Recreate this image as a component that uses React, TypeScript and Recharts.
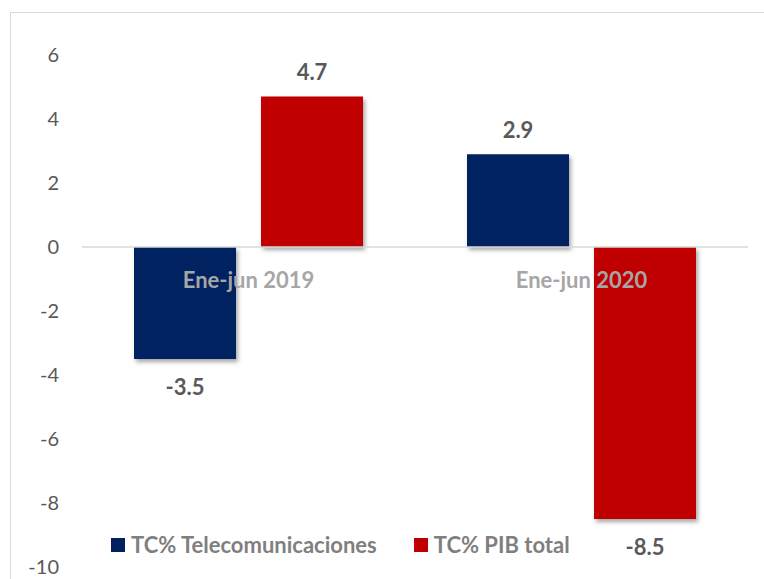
import { BarChart, Bar, XAxis, YAxis, ReferenceLine, Legend, LabelList } from 'recharts';

const periods = ['Ene-jun 2019', 'Ene-jun 2020'];
const telecom = [-3.5, 2.9];
const pibTotal = [4.7, -8.5];
const yTicks = [-10, -8, -6, -4, -2, 0, 2, 4, 6];

const seriesNames = ['TC% Telecomunicaciones', 'TC% PIB total'];
const colors = ['#002060', '#C00000'];

const data = periods.map((p, i) => ({ period: p, telecom: telecom[i], pib: pibTotal[i] }));

const FONT = 'Lato, "Noto Sans", sans-serif';
const TOP = 55;
const PLOT_H = 512;
const Y_MIN = -10;
const Y_MAX = 6;
const zeroY = TOP + (PLOT_H * Y_MAX) / (Y_MAX - Y_MIN);

function CategoryTick(props: any) {
  const { x, payload } = props;
  return (
    <text x={x} y={zeroY + 32} textAnchor="middle" dominantBaseline="central"
      fill="#A6A6A6" fontFamily={FONT} fontWeight="bold" fontSize={22}>
      {payload.value}
    </text>
  );
}

function ValueLabel(props: any) {
  const { x, y, width, height, value } = props;
  const top = Math.min(y, y + height);
  const bottom = Math.max(y, y + height);
  const ty = value >= 0 ? top - 25 : bottom + 27;
  return (
    <text x={x + width / 2} y={ty} textAnchor="middle" dominantBaseline="central"
      fill="#595959" fontFamily={FONT} fontWeight="bold" fontSize={22}>
      {value}
    </text>
  );
}

function LegendContent() {
  return (
    <div style={{ display: 'flex', alignItems: 'center', fontFamily: FONT, fontSize: 22, fontWeight: 'bold', color: '#7F7F7F', whiteSpace: 'nowrap' }}>
      {seriesNames.map((n, i) => (
        <div key={n} style={{ display: 'flex', alignItems: 'center', marginRight: 37 }}>
          <span style={{ width: 14, height: 14, background: colors[i], display: 'inline-block', marginRight: 6 }} />
          <span>{n}</span>
        </div>
      ))}
    </div>
  );
}

export default function App() {
  return (
    <div style={{ position: 'relative', width: 764, height: 579, overflow: 'hidden', background: '#fff' }}>
      <style>{'body{margin:0;overflow:hidden}'}</style>
      <div style={{ position: 'absolute', left: 10, top: 12, width: 800, height: 620, border: '1.5px solid #D9D9D9' }} />
      <div style={{ position: 'absolute', left: 0, top: 0 }}>
        <BarChart width={764} height={600} data={data}
          margin={{ top: TOP, right: 16, bottom: 600 - TOP - PLOT_H - 30, left: 0 }}
          barCategoryGap="15.6%" barGap={25}>
          <defs>
            <filter id="barShadow" x="-20%" y="-20%" width="140%" height="140%">
              <feDropShadow dx="2" dy="3" stdDeviation="2" floodColor="#000" floodOpacity="0.35" />
            </filter>
          </defs>
          <YAxis domain={[Y_MIN, Y_MAX]} ticks={yTicks} width={82} axisLine={false} tickLine={false}
            tickSize={0} tickMargin={23}
            tick={{ fill: '#595959', fontSize: 20, fontFamily: FONT }} />
          <ReferenceLine y={0} stroke="#D9D9D9" strokeWidth={1.5} />
          <Bar dataKey="telecom" name={seriesNames[0]} fill={colors[0]} barSize={102}
            filter="url(#barShadow)" isAnimationActive={false}>
            <LabelList dataKey="telecom" content={ValueLabel} />
          </Bar>
          <Bar dataKey="pib" name={seriesNames[1]} fill={colors[1]} barSize={102}
            filter="url(#barShadow)" isAnimationActive={false}>
            <LabelList dataKey="pib" content={ValueLabel} />
          </Bar>
          <XAxis dataKey="period" height={30} axisLine={false} tickLine={false} tick={CategoryTick} />
          <Legend layout="horizontal" verticalAlign="middle" align="center" content={LegendContent}
            wrapperStyle={{ position: 'absolute', left: 111, top: 531, width: 'auto' }} />
        </BarChart>
      </div>
    </div>
  );
}
